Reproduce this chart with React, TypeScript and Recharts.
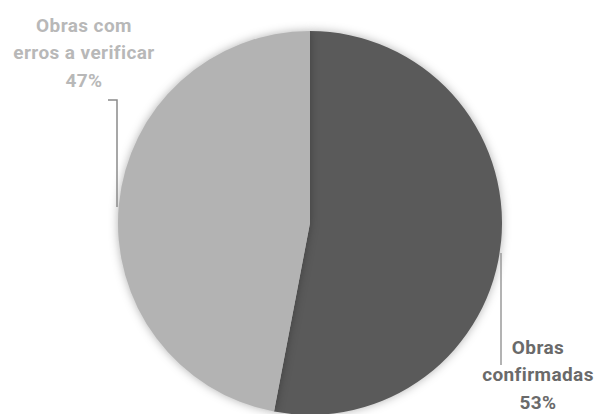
import { PieChart, Pie, Cell } from "recharts";

const categories = ["Obras confirmadas", "Obras com erros a verificar"];
const shares = [53, 47];
const colors = ["#5a5a5a", "#b3b3b3"];
const labelColors = ["#6a6a6a", "#b8b8b8"];
const labelLines = [["Obras", "confirmadas"], ["Obras com", "erros a verificar"]];

const data = categories.map((name, i) => ({ name, value: shares[i] }));

const labelText = (lines: string[], tx: number, ty: number, fill: string) =>
  lines.map((t, k) => (
    <text
      key={k}
      x={tx}
      y={ty + k * 27.5}
      textAnchor="middle"
      dominantBaseline="central"
      fill={fill}
      fontFamily="Roboto, sans-serif"
      fontWeight={700}
      fontSize={19}
      letterSpacing={0.4}
    >
      {t}
    </text>
  ));

const renderLabel = (props: any) => {
  const { cx, cy, outerRadius, index, value } = props;
  const lines = [...labelLines[index], `${value}%`];
  const r = outerRadius;
  if (index === 0) {
    return (
      <g>
        <line x1={cx + r - 1} y1={cy + 30} x2={cx + r - 1} y2={cy + 142} stroke="#9a9a9a" strokeWidth={1.5} />
        {labelText(lines, cx + r + 36, cy + 124, labelColors[index])}
      </g>
    );
  }
  return (
    <g>
      <polyline
        points={`${cx - r - 10},${cy - 123} ${cx - r - 1},${cy - 123} ${cx - r - 1},${cy - 16}`}
        fill="none"
        stroke="#8a8a8a"
        strokeWidth={1.5}
      />
      {labelText(lines, cx - r - 34, cy - 198, labelColors[index])}
    </g>
  );
};

const App = () => {
  return (
    <div style={{ position: "absolute", left: 0, top: 0, width: 600, height: 414, background: "#fff" }}>
      <PieChart width={600} height={414} margin={{ top: 0, right: 0, bottom: 0, left: 0 }}>
        <Pie
          data={data}
          dataKey="value"
          nameKey="name"
          cx={310}
          cy={223}
          outerRadius={192}
          startAngle={90}
          endAngle={-270}
          stroke="none"
          label={renderLabel}
          labelLine={false}
          isAnimationActive={false}
        >
          {data.map((d, i) => (
            <Cell key={d.name} fill={colors[i]} style={{ filter: "drop-shadow(0 0 5px rgba(0,0,0,0.3))" }} />
          ))}
        </Pie>
      </PieChart>
    </div>
  );
};

export default App;
